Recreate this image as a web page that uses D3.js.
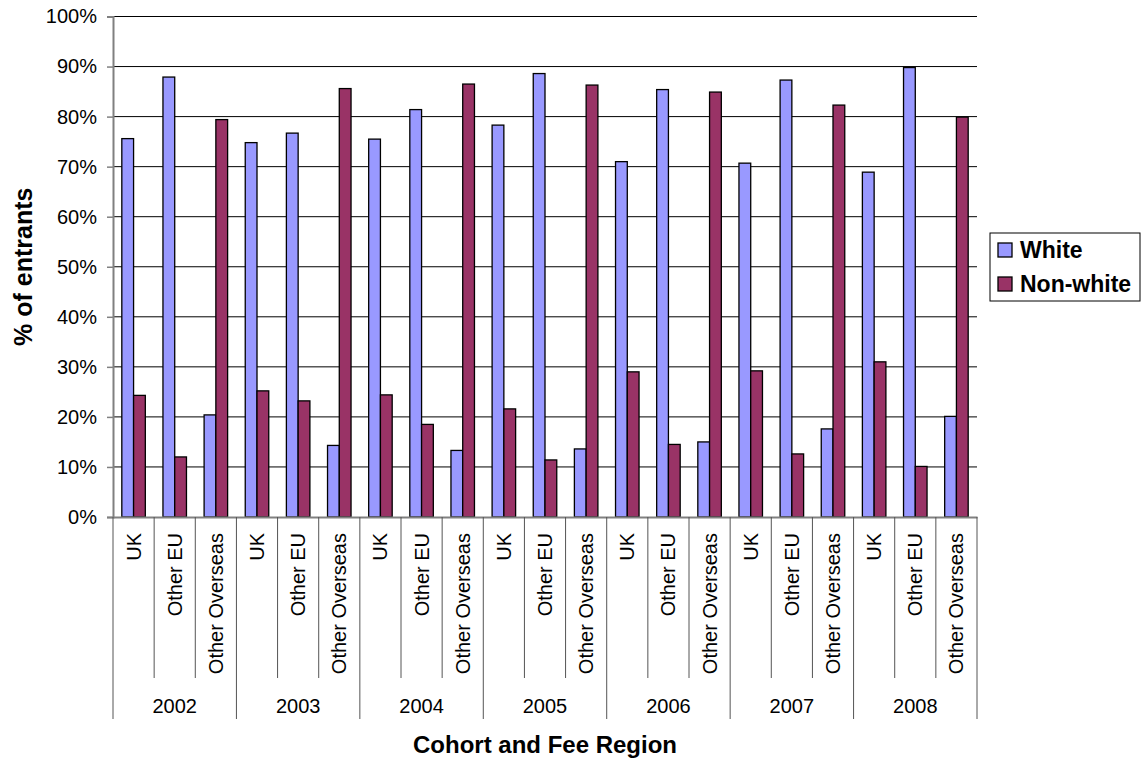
<!DOCTYPE html>
<html>
<head>
<meta charset="utf-8">
<script src="https://cdn.jsdelivr.net/npm/d3@7"></script>
<style>
  html, body { margin: 0; padding: 0; background: #fff; }
  svg { display: block; font-family: "Liberation Sans", Arial, sans-serif; }
</style>
</head>
<body>
<svg id="chart" width="1143" height="760"></svg>
<script>
// Entrants by cohort year and fee region, split by ethnicity (% of entrants)
const years = ["2002", "2003", "2004", "2005", "2006", "2007", "2008"];
const regions = ["UK", "Other EU", "Other Overseas"];
const seriesNames = ["White", "Non-white"];
const seriesColors = ["#9999FF", "#993366"];
const yTicks = [0, 10, 20, 30, 40, 50, 60, 70, 80, 90, 100];

// one value per year × region, in year order
const white = [
  75.6, 87.9, 20.4,
  74.8, 76.7, 14.3,
  75.5, 81.4, 13.3,
  78.3, 88.6, 13.6,
  71.0, 85.4, 15.0,
  70.7, 87.3, 17.6,
  68.9, 89.8, 20.1
];
const nonWhite = [
  24.3, 12.0, 79.4,
  25.2, 23.2, 85.6,
  24.4, 18.5, 86.5,
  21.6, 11.4, 86.3,
  29.0, 14.5, 84.9,
  29.2, 12.6, 82.3,
  31.0, 10.1, 79.9
];

const categories = [];
years.forEach(y => regions.forEach(r => categories.push({ key: y + "|" + r, year: y, region: r })));
const rows = categories.map((c, i) => ({ ...c, values: [white[i], nonWhite[i]] }));

const svg = d3.select("#chart");
const plot = { left: 113, right: 977, top: 16.5, bottom: 517 };

const x0 = d3.scaleBand()
  .domain(categories.map(c => c.key))
  .range([plot.left, plot.right])
  .paddingInner(0).paddingOuter(0);
const x1 = d3.scaleBand()
  .domain(seriesNames)
  .range([0, x0.bandwidth()])
  .paddingInner(0).paddingOuter(0.75);
const y = d3.scaleLinear().domain([0, 100]).range([plot.bottom, plot.top]);

// horizontal gridlines
svg.append("g")
  .selectAll("line")
  .data(yTicks.filter(t => t > 0))
  .join("line")
  .attr("x1", plot.left).attr("x2", plot.right)
  .attr("y1", d => y(d)).attr("y2", d => y(d))
  .attr("stroke", "#000").attr("stroke-width", 1);

// bars
const groups = svg.append("g")
  .selectAll("g")
  .data(rows)
  .join("g")
  .attr("transform", d => `translate(${x0(d.key)},0)`);
groups.selectAll("rect")
  .data(d => d.values.map((v, i) => ({ name: seriesNames[i], value: v, color: seriesColors[i] })))
  .join("rect")
  .attr("x", d => x1(d.name))
  .attr("width", x1.bandwidth())
  .attr("y", d => y(d.value))
  .attr("height", d => y(0) - y(d.value))
  .attr("fill", d => d.color)
  .attr("stroke", "#000")
  .attr("stroke-width", 1.3);

// y axis
const yAxis = d3.axisLeft(y)
  .tickValues(yTicks)
  .tickFormat(d => d + "%")
  .tickSize(6)
  .tickPadding(10);
const gy = svg.append("g")
  .attr("transform", `translate(${plot.left},0)`)
  .call(yAxis);
gy.select(".domain").attr("stroke", "#808080").attr("stroke-width", 2);
gy.selectAll(".tick line").attr("stroke", "#808080").attr("stroke-width", 1.5);
gy.selectAll(".tick text")
  .attr("font-size", 20)
  .attr("font-family", "Liberation Sans, Arial, sans-serif")
  .attr("fill", "#000");

// x axis: category labels
const xAxis = d3.axisBottom(x0).tickSize(0).tickFormat(k => k.split("|")[1]);
const gx = svg.append("g")
  .attr("transform", `translate(0,${plot.bottom})`)
  .call(xAxis);
gx.select(".domain").attr("stroke", "#808080").attr("stroke-width", 2);
gx.selectAll(".tick text")
  .attr("font-size", 20)
  .attr("font-family", "Liberation Sans, Arial, sans-serif")
  .attr("fill", "#000")
  .attr("text-anchor", "end")
  .attr("transform", "translate(0,16) rotate(-90)")
  .attr("x", 0).attr("y", 0)
  .attr("dy", "0.35em");

// separators between categories and between years
const bounds = d3.range(categories.length + 1);
svg.append("g")
  .selectAll("line")
  .data(bounds)
  .join("line")
  .attr("x1", i => i < categories.length ? x0(categories[i].key) : plot.right)
  .attr("x2", i => i < categories.length ? x0(categories[i].key) : plot.right)
  .attr("y1", plot.bottom)
  .attr("y2", i => (i % regions.length === 0) ? 719 : 678)
  .attr("stroke", "#555")
  .attr("stroke-width", 1);

// year labels
svg.append("g")
  .selectAll("text")
  .data(years)
  .join("text")
  .attr("x", (yr, i) => {
    const first = x0(categories[i * regions.length].key);
    return first + x0.step() * regions.length / 2;
  })
  .attr("y", 713)
  .attr("text-anchor", "middle")
  .attr("font-size", 20)
  .text(d => d);

// axis titles
svg.append("text")
  .attr("transform", `translate(32,${(plot.top + plot.bottom) / 2}) rotate(-90)`)
  .attr("text-anchor", "middle")
  .attr("font-size", 25)
  .attr("font-weight", "bold")
  .text("% of entrants");

svg.append("text")
  .attr("x", (plot.left + plot.right) / 2)
  .attr("y", 753)
  .attr("text-anchor", "middle")
  .attr("font-size", 24)
  .attr("font-weight", "bold")
  .text("Cohort and Fee Region");

// legend
const legend = svg.append("g").attr("transform", "translate(990,233)");
legend.append("rect")
  .attr("width", 150).attr("height", 68)
  .attr("fill", "#fff").attr("stroke", "#000").attr("stroke-width", 1);
const items = legend.selectAll("g.item")
  .data(seriesNames)
  .join("g")
  .attr("class", "item")
  .attr("transform", (d, i) => `translate(8,${10 + i * 34})`);
items.append("rect")
  .attr("width", 14).attr("height", 14)
  .attr("fill", (d, i) => seriesColors[i])
  .attr("stroke", "#000").attr("stroke-width", 1.3);
items.append("text")
  .attr("x", 22).attr("y", 15)
  .attr("font-size", 23)
  .attr("font-weight", "bold")
  .text(d => d);
</script>
</body>
</html>
